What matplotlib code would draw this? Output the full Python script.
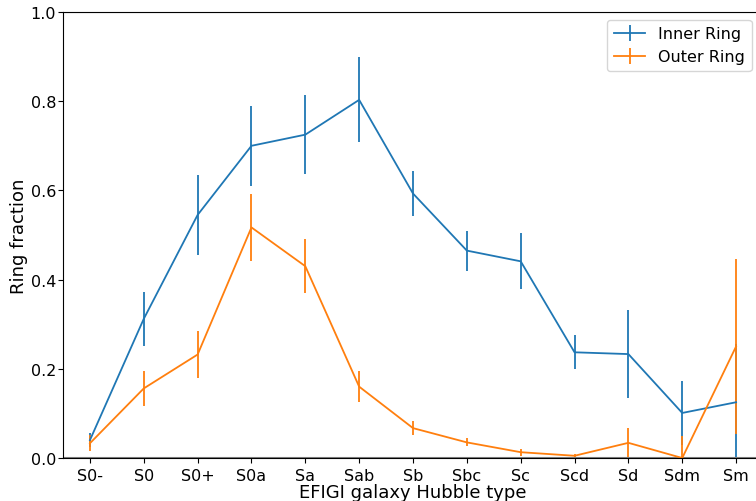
import numpy as np
import matplotlib
matplotlib.use('Agg')
import matplotlib.pyplot as plt

types = ['S0-', 'S0', 'S0+', 'S0a', 'Sa', 'Sab', 'Sb', 'Sbc', 'Sc', 'Scd', 'Sd', 'Sdm', 'Sm']

inner = [0.040, 0.312, 0.545, 0.700, 0.725, 0.803, 0.593, 0.465, 0.441, 0.237, 0.233, 0.101, 0.125]
inner_err = [0.015, 0.060, 0.090, 0.090, 0.088, 0.095, 0.050, 0.045, 0.063, 0.038, 0.098, 0.072, 0.130]

outer = [0.033, 0.156, 0.232, 0.517, 0.430, 0.160, 0.067, 0.035, 0.013, 0.005, 0.034, 0.000, 0.250]
outer_err = [0.018, 0.040, 0.053, 0.075, 0.061, 0.035, 0.015, 0.009, 0.008, 0.004, 0.033, 0.050, 0.196]

fig = plt.figure(figsize=(7.56, 5.02), dpi=100)
# the original figure is cut off on the right, so the axes run past the edge
ax = fig.add_axes([63/756, 43/502, 700/756, 446/502])

x = np.arange(len(types))
ax.errorbar(x, inner, yerr=inner_err, lw=1.3, label='Inner Ring')
ax.errorbar(x, outer, yerr=outer_err, lw=1.3, label='Outer Ring')
ax.axhline(0, color='gray', lw=1.5)
ax.axhline(1, color='gray', lw=1.5)

ax.set_xticks(x)
ax.set_xticklabels(types)
ax.set_xlim(-0.5, len(types) - 0.5)
ax.set_ylim(0, 1)
ax.tick_params(labelsize=11.5)
ax.tick_params(axis='y', pad=1.5)
ax.set_xlabel('EFIGI galaxy Hubble type', fontsize=13, labelpad=0)
ax.set_ylabel('Ring fraction', fontsize=13, labelpad=2)
ax.legend(loc='upper right', fontsize=11.5, bbox_to_anchor=(0.995, 1))

fig.savefig('out.png', dpi=100)
